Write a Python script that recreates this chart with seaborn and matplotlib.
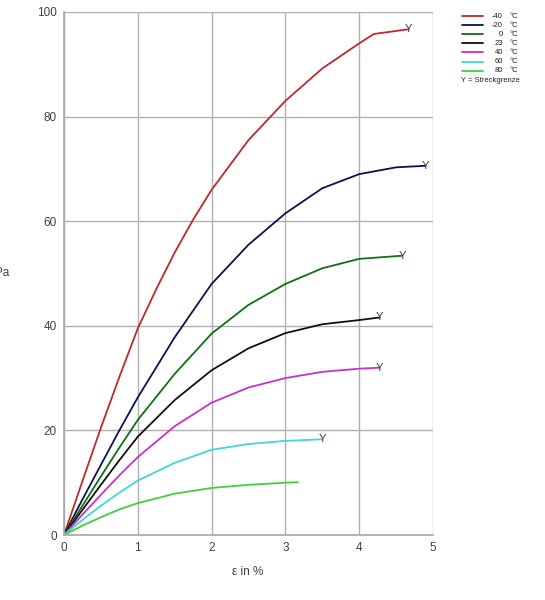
import pandas as pd
import matplotlib.pyplot as plt
import seaborn as sns

# Stress-strain curves per temperature
temps = ["-40", "-20", "0", "23", "40", "60", "80"]
colors = ["#c0282a", "#101050", "#107010", "#101010", "#c830c8", "#40d8d0", "#40d040"]

strain = {
    "-40": [0, 0.25, 0.5, 0.75, 1, 1.25, 1.5, 1.75, 2, 2.5, 3, 3.5, 4, 4.2, 4.67],
    "-20": [0, 0.25, 0.5, 0.75, 1, 1.5, 2, 2.5, 3, 3.5, 4, 4.5, 4.9],
    "0":   [0, 0.25, 0.5, 0.75, 1, 1.5, 2, 2.5, 3, 3.5, 4, 4.58],
    "23":  [0, 0.25, 0.5, 0.75, 1, 1.5, 2, 2.5, 3, 3.5, 4, 4.28],
    "40":  [0, 0.25, 0.5, 0.75, 1, 1.5, 2, 2.5, 3, 3.5, 4, 4.28],
    "60":  [0, 0.25, 0.5, 0.75, 1, 1.5, 2, 2.5, 3, 3.5],
    "80":  [0, 0.25, 0.5, 0.75, 1, 1.5, 2, 2.5, 3, 3.17],
}
stress = {
    "-40": [0, 10.3, 20.5, 30.2, 39.5, 47, 54, 60.3, 66, 75.5, 83, 89.2, 94, 95.8, 96.7],
    "-20": [0, 6.8, 13.4, 20, 26.3, 37.8, 48, 55.5, 61.5, 66.3, 69, 70.3, 70.6],
    "0":   [0, 5.6, 11.2, 16.7, 22, 30.8, 38.5, 44, 48, 51, 52.8, 53.4],
    "23":  [0, 4.8, 9.6, 14.3, 18.8, 25.8, 31.5, 35.7, 38.6, 40.3, 41.1, 41.6],
    "40":  [0, 3.9, 7.7, 11.4, 14.9, 20.8, 25.3, 28.2, 30, 31.2, 31.8, 32],
    "60":  [0, 2.9, 5.6, 8.1, 10.4, 13.8, 16.3, 17.4, 18, 18.3],
    "80":  [0, 1.8, 3.4, 4.9, 6.1, 7.9, 9.0, 9.6, 10.0, 10.1],
}
yield_marked = ["-40", "-20", "0", "23", "40", "60"]

rows = []
for t in temps:
    for e, s in zip(strain[t], stress[t]):
        rows.append({"eps": e, "sigma": s, "temp": t})
df = pd.DataFrame(rows)

sns.set_style("white")
plt.rcParams["font.family"] = ["Liberation Sans", "DejaVu Sans"]

W, H = 545, 600
fig = plt.figure(figsize=(W / 100, H / 100), dpi=100)
ax = fig.add_axes([0.1174, 0.1083, 0.677, 0.8717])

sns.lineplot(data=df, x="eps", y="sigma", hue="temp", hue_order=temps,
             palette=colors, linewidth=1.3, ax=ax, legend=False, sort=False)

for t in yield_marked:
    ax.text(strain[t][-1], stress[t][-1], "Y", fontsize=8, color="#404040",
            ha="center", va="center")

ax.set_xlim(0, 5)
ax.set_ylim(0, 100)
ax.set_xticks(range(0, 6))
ax.set_yticks(range(0, 101, 20))
ax.grid(True, color="#b0b0b0", linewidth=1)
ax.set_axisbelow(True)
for side in ["top", "right"]:
    ax.spines[side].set_visible(False)
for side in ["left", "bottom"]:
    ax.spines[side].set_color("#a8a8a8")
    ax.spines[side].set_linewidth(1.2)
ax.tick_params(labelsize=8.5, colors="#404040", length=0, pad=5)
ax.set_xlabel("")
ax.set_ylabel("")

fig.text(248 / W, 1 - 572 / H, "ε in %", fontsize=8.5, ha="center", va="center",
         color="#404040")
fig.text(9 / W, 1 - 273 / H, "σ in MPa", fontsize=8.5, ha="right", va="center",
         color="#404040")

# legend drawn by hand, outside the axes at the top right
for i, (t, c) in enumerate(zip(temps, colors)):
    yy = 1 - (16 + 9.1 * i) / H
    fig.add_artist(plt.Line2D([462 / W, 483 / W], [yy, yy], color=c, linewidth=1.3))
    fig.text(503 / W, yy, t, fontsize=5.5, ha="right", va="center", color="#202020")
    fig.text(509 / W, yy, "°C", fontsize=5.5, ha="left", va="center", color="#202020")
fig.text(461 / W, 1 - 80.5 / H, "Y = Streckgrenze", fontsize=5.5, color="#202020",
         va="center")

fig.savefig("out.png", dpi=100)
